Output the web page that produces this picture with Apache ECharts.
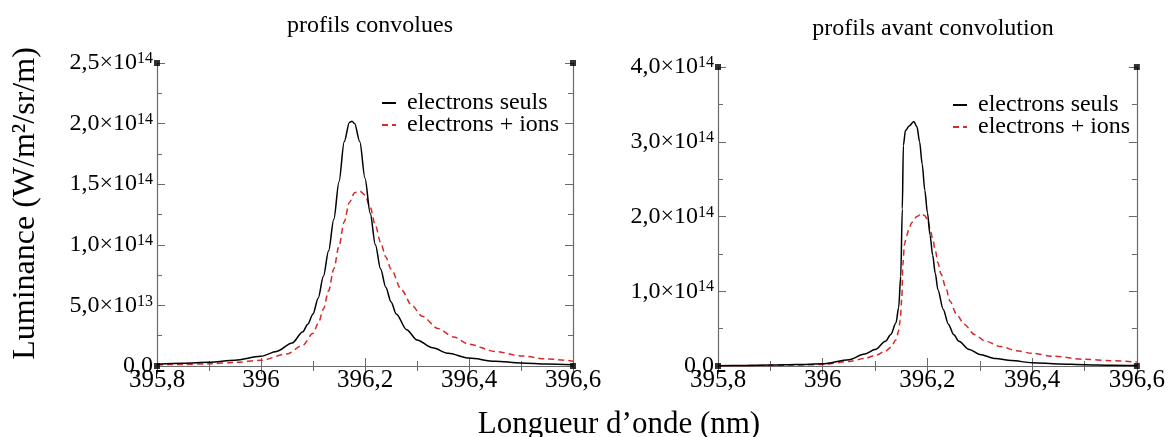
<!DOCTYPE html>
<html>
<head>
<meta charset="utf-8">
<script src="https://cdn.jsdelivr.net/npm/echarts@6/dist/echarts.min.js"></script>
<style>
  html, body { margin: 0; padding: 0; background: #fff; }
  #chart { width: 1168px; height: 437px; }
</style>
</head>
<body>
<div id="chart"></div>
<script>
// ---------- DATA (luminance values in units of 1e14 W/m²/sr/m) ----------
const xTickLabels = ['395,8', '396', '396,2', '396,4', '396,6'];
const leftYTickLabels = ['0,0', '5,0×10^13', '1,0×10^14', '1,5×10^14', '2,0×10^14', '2,5×10^14'];
const rightYTickLabels = ['0,0', '1,0×10^14', '2,0×10^14', '3,0×10^14', '4,0×10^14'];
const seriesNames = ['electrons seuls', 'electrons + ions'];
const panelTitles = ['profils convolues', 'profils avant convolution'];
const yAxisName = 'Luminance (W/m²/sr/m)';
const xAxisName = 'Longueur d’onde (nm)';

// Left panel: convolved profiles
const convElecWl = [395.80, 395.85, 395.90, 395.95, 396.00, 396.03, 396.06, 396.08, 396.09, 396.10, 396.11, 396.12, 396.13, 396.14, 396.15, 396.16, 396.17, 396.175, 396.18, 396.19, 396.20, 396.21, 396.22, 396.23, 396.24, 396.25, 396.26, 396.28, 396.30, 396.33, 396.36, 396.40, 396.45, 396.50, 396.55, 396.60];
const convElecVal = [0.015, 0.022, 0.030, 0.048, 0.080, 0.120, 0.19, 0.28, 0.345, 0.43, 0.56, 0.74, 0.95, 1.21, 1.52, 1.85, 2.01, 2.02, 2.00, 1.85, 1.55, 1.26, 1.00, 0.80, 0.65, 0.53, 0.43, 0.30, 0.215, 0.15, 0.105, 0.065, 0.040, 0.025, 0.016, 0.010];
const convIonWl = [395.80, 395.85, 395.90, 395.95, 396.00, 396.05, 396.08, 396.10, 396.11, 396.12, 396.13, 396.14, 396.15, 396.16, 396.17, 396.18, 396.19, 396.20, 396.21, 396.22, 396.23, 396.24, 396.25, 396.27, 396.29, 396.31, 396.34, 396.37, 396.40, 396.45, 396.50, 396.55, 396.60];
const convIonVal = [0.010, 0.013, 0.018, 0.030, 0.047, 0.10, 0.17, 0.27, 0.35, 0.47, 0.62, 0.80, 0.99, 1.19, 1.35, 1.43, 1.443, 1.41, 1.31, 1.16, 1.02, 0.90, 0.80, 0.63, 0.50, 0.41, 0.31, 0.24, 0.18, 0.12, 0.083, 0.058, 0.040];

// Right panel: profiles before convolution
const rawElecWl = [395.80, 395.85, 395.90, 395.95, 396.00, 396.05, 396.08, 396.10, 396.12, 396.13, 396.14, 396.145, 396.149, 396.152, 396.154, 396.158, 396.165, 396.174, 396.18, 396.185, 396.19, 396.195, 396.20, 396.205, 396.21, 396.215, 396.22, 396.23, 396.24, 396.25, 396.26, 396.28, 396.30, 396.33, 396.36, 396.40, 396.45, 396.50, 396.55, 396.60];
const rawElecVal = [0.005, 0.008, 0.012, 0.019, 0.031, 0.085, 0.16, 0.22, 0.33, 0.42, 0.58, 0.78, 1.20, 2.10, 2.95, 3.15, 3.21, 3.27, 3.20, 3.00, 2.70, 2.35, 2.05, 1.75, 1.48, 1.24, 1.02, 0.76, 0.56, 0.42, 0.33, 0.22, 0.155, 0.10, 0.072, 0.045, 0.028, 0.018, 0.011, 0.006];
const rawIonWl = [395.80, 395.85, 395.90, 395.95, 396.00, 396.05, 396.08, 396.10, 396.12, 396.13, 396.14, 396.145, 396.148, 396.151, 396.153, 396.156, 396.16, 396.165, 396.17, 396.18, 396.189, 396.195, 396.20, 396.205, 396.21, 396.215, 396.22, 396.226, 396.235, 396.243, 396.255, 396.27, 396.29, 396.31, 396.34, 396.37, 396.40, 396.44, 396.50, 396.55, 396.60];
const rawIonVal = [0.003, 0.005, 0.008, 0.013, 0.020, 0.06, 0.10, 0.14, 0.20, 0.25, 0.35, 0.47, 0.62, 0.90, 1.35, 1.62, 1.74, 1.84, 1.92, 2.00, 2.04, 2.01, 1.96, 1.84, 1.70, 1.55, 1.38, 1.23, 1.05, 0.87, 0.70, 0.56, 0.42, 0.335, 0.26, 0.205, 0.17, 0.13, 0.09, 0.07, 0.054];

const xMin = 395.8, xMax = 396.6, xStep = 0.2;
const leftYMax = 2.5, leftYStep = 0.5;
const rightYMax = 4.0, rightYStep = 1.0;

// ---------- CHART ----------
const FONT = 'Liberation Serif';
const FRAME = '#6a6a6a';
const RED = '#d42a2a';

function zip(xs, ys) { return xs.map((x, i) => [x, ys[i]]); }
function richLabel(s) {
  const p = s.split('^');
  return p.length > 1 ? '{m|' + p[0] + '}{s|' + p[1] + '}' : '{m|' + p[0] + '}';
}
const richStyle = {
  m: { fontFamily: FONT, fontSize: 24, lineHeight: 24, color: '#000', verticalAlign: 'bottom' },
  s: { fontFamily: FONT, fontSize: 16, lineHeight: 16, color: '#000', verticalAlign: 'top', padding: [0, 0, 15, 0] }
};

function xAxes(gridIndex) {
  const common = {
    type: 'value', gridIndex, min: xMin, max: xMax, interval: xStep,
    splitLine: { show: false },
    axisLine: { show: true, lineStyle: { color: FRAME, width: 1.2 } },
    axisTick: { show: true, inside: true, length: 8, lineStyle: { color: FRAME } },
    minorTick: { show: true, splitNumber: 2, length: 5, lineStyle: { color: FRAME } },
    minorSplitLine: { show: false }
  };
  return [
    Object.assign({}, common, {
      position: 'bottom',
      axisLabel: {
        show: true, margin: 2, fontFamily: FONT, fontSize: 25, color: '#000',
        showMinLabel: true, showMaxLabel: true,
        formatter: (v) => xTickLabels[Math.round((v - xMin) / xStep)]
      }
    }),
    Object.assign({}, common, { position: 'top', axisLabel: { show: false } })
  ];
}
function yAxes(gridIndex, max, step, labels, withName) {
  const common = {
    type: 'value', gridIndex, min: 0, max: max, interval: step,
    splitLine: { show: false },
    axisLine: { show: true, lineStyle: { color: FRAME, width: 1.2 } },
    axisTick: { show: true, inside: true, length: 8, lineStyle: { color: FRAME } },
    minorTick: { show: true, splitNumber: 2, length: 5, lineStyle: { color: FRAME } },
    minorSplitLine: { show: false }
  };
  const left = Object.assign({}, common, {
    position: 'left',
    axisLabel: {
      show: true, margin: 4, showMinLabel: true, showMaxLabel: true,
      formatter: (v) => richLabel(labels[Math.round(v / step)]),
      rich: richStyle
    }
  });
  if (withName) {
    Object.assign(left, {
      name: yAxisName, nameLocation: 'middle', nameGap: 115, nameRotate: 90,
      nameTextStyle: { fontFamily: FONT, fontSize: 32, color: '#000', padding: [0, 0, 0, 22] }
    });
  }
  const right = Object.assign({}, common, { position: 'right', axisLabel: { show: false } });
  return [left, right];
}

function lineSeries(name, xi, yi, data, dashed) {
  return {
    type: 'line', name, xAxisIndex: xi, yAxisIndex: yi, data,
    showSymbol: false, symbol: 'none', smooth: 0.3, smoothMonotone: 'x',
    lineStyle: dashed ? { color: RED, width: 1.5, type: [6, 4] } : { color: '#000', width: 1.5 },
    itemStyle: { color: dashed ? RED : '#000' },
    z: dashed ? 3 : 4
  };
}
function cornerSeries(xi, yi, ymax) {
  return {
    type: 'scatter', name: 'cadre', xAxisIndex: xi, yAxisIndex: yi,
    symbol: 'rect', symbolSize: 6, itemStyle: { color: '#000' }, z: 10, silent: true,
    data: [[xMin, 0], [xMax, 0], [xMin, ymax], [xMax, ymax]]
  };
}

const legendCommon = {
  orient: 'vertical', itemWidth: 14, itemHeight: 10, itemGap: -2, padding: 0,
  data: seriesNames, selectedMode: false,
  itemStyle: { opacity: 0 },
  textStyle: { fontFamily: FONT, fontSize: 24, color: '#000', lineHeight: 23, padding: [0, 0, 0, 6] }
};

const titleStyle = { fontFamily: FONT, fontSize: 24, fontWeight: 'normal', color: '#000' };

const option = {
  backgroundColor: '#fff',
  animation: false,
  title: [
    { text: panelTitles[0], left: 365, top: 9, textAlign: 'center', textStyle: titleStyle },
    { text: panelTitles[1], left: 928, top: 12, textAlign: 'center', textStyle: titleStyle },
    { text: xAxisName, left: 614, top: 404, textAlign: 'center', textStyle: { fontFamily: FONT, fontSize: 31, fontWeight: 'normal', color: '#000' } }
  ],
  legend: [
    Object.assign({}, legendCommon, { left: 381, top: 91 }),
    Object.assign({}, legendCommon, { left: 952, top: 93 })
  ],
  grid: [
    { left: 157, top: 63, width: 416, height: 303 },
    { left: 718, top: 67, width: 419, height: 299 }
  ],
  xAxis: [].concat(xAxes(0), xAxes(1)),
  yAxis: [].concat(yAxes(0, leftYMax, leftYStep, leftYTickLabels, true), yAxes(1, rightYMax, rightYStep, rightYTickLabels, false)),
  series: [
    lineSeries(seriesNames[0], 0, 0, zip(convElecWl, convElecVal), false),
    lineSeries(seriesNames[1], 0, 0, zip(convIonWl, convIonVal), true),
    lineSeries(seriesNames[0], 2, 2, zip(rawElecWl, rawElecVal), false),
    lineSeries(seriesNames[1], 2, 2, zip(rawIonWl, rawIonVal), true),
    cornerSeries(0, 0, leftYMax),
    cornerSeries(2, 2, rightYMax)
  ]
};

const chart = echarts.init(document.getElementById('chart'), null, { renderer: 'canvas' });
chart.setOption(option);
</script>
</body>
</html>
